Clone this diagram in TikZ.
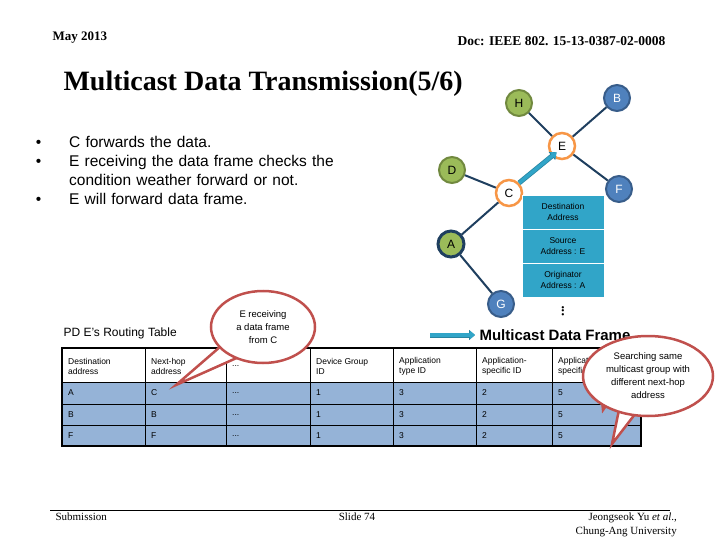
\documentclass[tikz,border=0pt]{standalone}
\usepackage{fontspec}
\setmainfont{Liberation Serif}
\setsansfont{Liberation Sans}
\usetikzlibrary{arrows.meta,shapes.geometric}
\definecolor{gfill}{HTML}{9BBB59}\definecolor{gdark}{HTML}{71893F}
\definecolor{bfill}{HTML}{4F81BD}\definecolor{bdark}{HTML}{385D8A}
\definecolor{orng}{HTML}{F79646}\definecolor{edge}{HTML}{1F3F5F}
\definecolor{teal}{HTML}{31A5C8}\definecolor{rowb}{HTML}{95B3D7}
\definecolor{red}{HTML}{C0504D}
\begin{document}
\begin{tikzpicture}[x=1pt,y=-1pt,font=\sffamily,
 gnode/.style={circle,minimum size=26,inner sep=0,fill=gfill,draw=gdark,line width=2,font=\sffamily\fontsize{12}{12}\selectfont},
 bnode/.style={gnode,fill=bfill,draw=bdark,text=white},
 onode/.style={gnode,fill=white,draw=orng,line width=2.5},
 lnk/.style={draw=edge,line width=2},
 fbox/.style={fill=teal,draw=white,line width=0.6,minimum width=82,minimum height=34,align=center,inner sep=0,font=\sffamily\fontsize{8.5}{11}\selectfont},
 cell/.style={anchor=west,align=left,inner sep=0,font=\sffamily\fontsize{8.5}{10}\selectfont},
 callout/.style={draw=red,line width=2.5,fill=white,align=center,font=\sffamily\fontsize{9.5}{13}\selectfont}]
\useasboundingbox (0,0) rectangle (720,540);
\node[anchor=west,font=\fontsize{13}{13}\selectfont\bfseries] (hd1) at (49,38) {May 2013};
\node[anchor=east,font=\fontsize{13.5}{13.5}\selectfont\bfseries] (hd2) at (669,41) {Doc: IEEE 802. 15-13-0387-02-0008};
\node[anchor=west,font=\fontsize{28}{28}\selectfont\bfseries] (title) at (60,84) {Multicast Data Transmission(5/6)};
\node[anchor=north west,text width=312,font=\sffamily\fontsize{15.5}{19}\selectfont,inner sep=0] (bul) at (32,128) {%
\begin{list}{\textbullet}{\leftmargin=37pt\labelsep=28pt\itemsep=0pt\parsep=0pt\topsep=0pt}
\item C forwards the data.
\item E receiving the data frame checks the condition weather forward or not.
\item E will forward data frame.
\end{list}};
% network
\node[gnode] (H) at (519,103) {H};
\node[bnode] (B) at (617,98) {B};
\node[onode] (E) at (562,146) {E};
\node[gnode] (D) at (452,170) {D};
\node[onode] (C) at (509,193) {C};
\node[bnode] (F) at (619,189) {F};
\node[gnode,draw=edge,line width=3] (A) at (451,244) {A};
\node[bnode] (G) at (501,304) {G};
\foreach \a/\b in {H/E,B/E,E/F,D/C,C/A,A/G} \path[lnk] (\a) -- (\b);
\draw[-{Triangle[length=6,width=10]},line width=5,draw=teal!80!black,shorten >=-6pt] (C.45) -- (E.225);
\draw[-{Triangle[length=5,width=8]},line width=3.5,teal,shorten >=-6pt] (C.45) -- (E.225);
\node[fbox] (f1) at (563,212) {Destination\\Address};
\node[fbox] (f2) at (563,246) {Source\\Address : E};
\node[fbox] (f3) at (563,280) {Originator\\Address : A};
\node[font=\bfseries\fontsize{14}{14}\selectfont] (dots) at (563,311) {\rotatebox{90}{...}};
\coordinate (la) at (430,335);
\coordinate (lb) at (475,335);
\draw[-{Triangle[length=6,width=10]},line width=5,draw=teal!80!black] (la) -- (lb);
\draw[-{Triangle[length=5,width=8]},line width=3.5,teal] (la) -- (lb);
\node[anchor=west,font=\sffamily\bfseries\fontsize{15}{15}\selectfont] (mdf) at (476,335) {Multicast Data Frame};
\node[anchor=west,font=\sffamily\fontsize{12}{12}\selectfont] (rt) at (60,333) {PD E's Routing Table};
% table
\fill[rowb] (62,382) rectangle (641,446);
\foreach \y in {382,404,425} \draw[line width=0.6] (62,\y) -- (641,\y);
\foreach \x in {145,226,310,393,476,552} \draw[line width=0.6] (\x,348) -- (\x,446);
\draw[line width=1.5] (62,348) rectangle (641,446);
\foreach \x/\t/\r/\s/\u in {62/{Destination\\address}/A/B/F,145/{Next-hop\\address}/C/B/F,226/{...}/{...}/{...}/{...},310/{Device Group\\ID}/1/1/1,393/{Application\\type ID}/3/3/3,476/{Application-\\specific ID}/2/2/2,552/{Application-\\specific ID}/5/5/5}{
 \node[cell] at (\x+6,366) {\t};
 \node[cell] at (\x+6,393) {\r};
 \node[cell] at (\x+6,415) {\s};
 \node[cell] at (\x+6,436) {\u};
}
% callouts
\coordinate (t1) at (176,385);
\filldraw[draw=red,line width=2.5,fill=white] (228,340) -- (t1) -- (250,352) -- cycle;
\node[callout,ellipse,minimum width=104,minimum height=72,inner sep=0] (c1) at (263,327) {E receiving\\a data frame\\from C};
\coordinate (t2) at (603,410);
\coordinate (t3) at (612,444);
\filldraw[draw=red,line width=2.5,fill=white] (600,378) -- (t2) -- (615,393) -- cycle;
\filldraw[draw=red,line width=2.5,fill=white] (622,395) -- (t3) -- (642,405) -- cycle;
\node[callout,ellipse,minimum width=130,minimum height=80,inner sep=0] (c2) at (648,376) {Searching same\\multicast group with\\different next-hop\\address};
% footer
\coordinate (fl) at (50,510);\coordinate (fr) at (670,510);
\draw[line width=0.8] (fl) -- (fr);
\node[anchor=west,font=\fontsize{11}{11}\selectfont] (sub) at (52,517) {Submission};
\node[font=\fontsize{11}{11}\selectfont] (sl) at (357,517) {Slide 74};
\node[anchor=north east,align=right,font=\fontsize{11}{14}\selectfont,inner sep=0] (au) at (677,513) {Jeongseok Yu \textit{et al}.,\\Chung-Ang University};
\end{tikzpicture}
\end{document}
